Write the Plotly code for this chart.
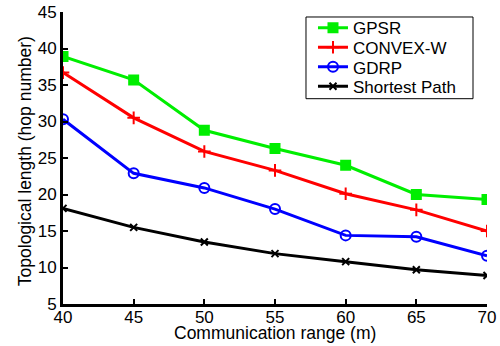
import plotly.graph_objects as go

comm_range = [40, 45, 50, 55, 60, 65, 70]
gpsr = [38.9, 35.7, 28.8, 26.3, 24.0, 20.0, 19.3]
convex_w = [36.7, 30.5, 25.9, 23.3, 20.1, 17.9, 15.0]
gdrp = [30.3, 22.9, 20.9, 18.0, 14.4, 14.2, 11.6]
shortest = [18.1, 15.5, 13.5, 11.9, 10.8, 9.7, 8.9]
y_ticks = [5, 10, 15, 20, 25, 30, 35, 40, 45]

series = [
    ("GPSR", gpsr, "#00ee00", "square", 9),
    ("CONVEX-W", convex_w, "#ff0000", "cross-thin", 9),
    ("GDRP", gdrp, "#0000ff", "circle-open", 10),
    ("Shortest Path", shortest, "#000000", "x-thin", 7),
]
legend_ids = ["legend", "legend2", "legend3", "legend4"]
legend_y = [0.9410, 0.8747, 0.8078, 0.7416]

fig = go.Figure()
for (name, vals, col, sym, sz), lid in zip(series, legend_ids):
    fig.add_trace(go.Scatter(
        x=comm_range, y=vals, name=name, mode="lines+markers",
        line=dict(color=col, width=3),
        marker=dict(symbol=sym, size=sz, color=col,
                    line=dict(color=col, width=2)),
        legend=lid,
    ))

leg_common = dict(x=0.5896, xanchor="left", yanchor="middle",
                  bgcolor="rgba(0,0,0,0)", borderwidth=0,
                  font=dict(size=17), itemwidth=30)

layout_legends = {}
for lid, ly in zip(legend_ids, legend_y):
    layout_legends[lid] = dict(y=ly, **leg_common)

fig.update_layout(
    width=500, height=346,
    margin=dict(l=63, r=13, t=11, b=42),
    paper_bgcolor="white", plot_bgcolor="white",
    font=dict(family="Liberation Sans, Arial", size=17, color="black"),
    showlegend=True,
    shapes=[dict(type="rect", xref="paper", yref="paper",
                 x0=0.5731, x1=0.967, y0=0.7031, y1=0.9829,
                 line=dict(color="black", width=1), fillcolor="white",
                 layer="above")],
    annotations=[
        dict(text="Communication range (m)", xref="paper", yref="paper",
             x=0.5, y=-0.1010, xanchor="center", yanchor="middle",
             showarrow=False, font=dict(size=17.5)),
        dict(text="Topological length (hop number)", xref="paper", yref="paper",
             x=-0.0890, y=0.49, xanchor="center", yanchor="middle",
             textangle=-90, showarrow=False, font=dict(size=17.5)),
    ],
    **layout_legends,
)
fig.update_xaxes(
    range=[40, 70], tickvals=comm_range, showgrid=False, zeroline=False,
    showline=True, linecolor="black", linewidth=3, automargin=False,
    ticks="inside", ticklen=5, tickwidth=2, tickcolor="black",
    tickfont=dict(size=17), ticklabelstandoff=-4,
)
fig.update_yaxes(
    range=[5, 45], tickvals=y_ticks, showgrid=False,
    zeroline=False, showline=True, linecolor="black", linewidth=3,
    automargin=False,
    ticks="inside", ticklen=5, tickwidth=2, tickcolor="black",
    tickfont=dict(size=17),
)

fig.write_html("out.html", config={"displayModeBar": False},
               post_script="document.body.style.margin='0';")
